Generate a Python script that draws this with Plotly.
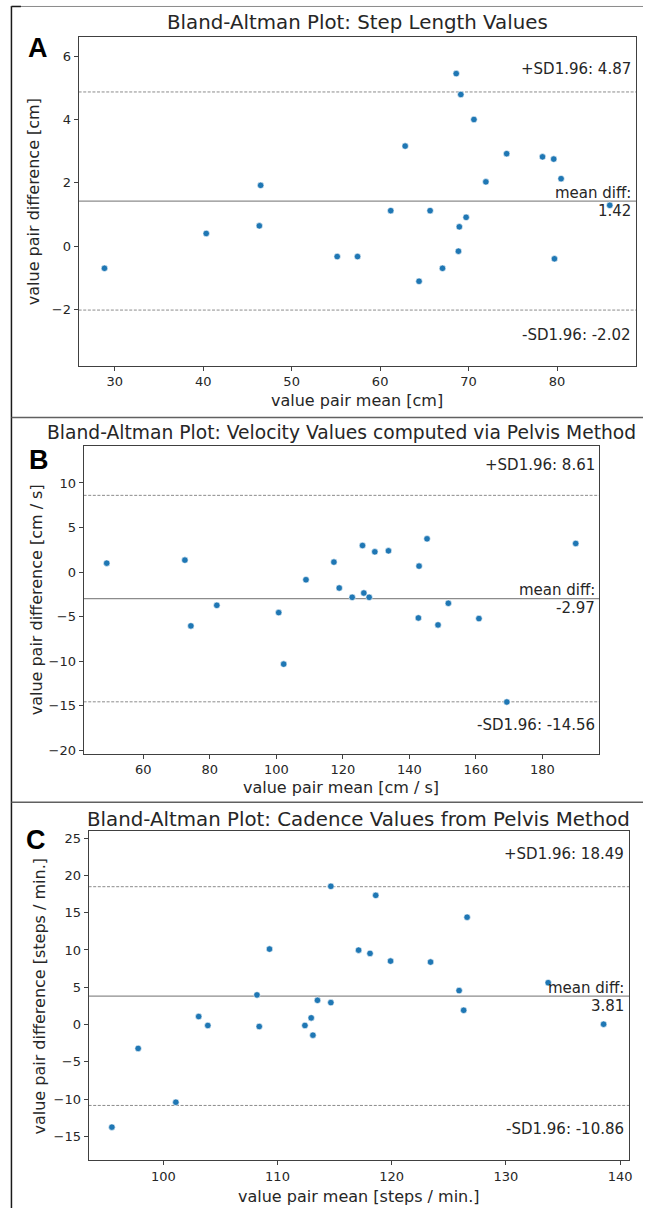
import plotly.graph_objects as go

W, H = 646, 1212

# ---------------- data ----------------
# Panel A: Step length
step_mean = [62.83, 74.3, 78.35, 79.62, 46.5, 71.95, 80.45, 85.95, 61.2, 65.65, 69.72, 68.95,
             46.35, 40.35, 55.15, 57.45, 68.85, 79.7, 67.05, 28.85, 64.4, 68.6, 69.12, 70.6]
step_diff = [3.16, 2.92, 2.82, 2.75, 1.92, 2.03, 2.13, 1.29, 1.12, 1.12, 0.91, 0.61,
             0.64, 0.40, -0.33, -0.33, -0.16, -0.40, -0.70, -0.70, -1.11, 5.45, 4.79, 4.00]

# Panel B: Velocity
vel_mean = [145.3, 49.0, 72.5, 125.9, 129.6, 133.7, 190.0, 117.3, 142.9, 108.9, 118.9, 122.8,
            126.3, 127.9, 82.1, 74.3, 100.7, 142.7, 148.6, 151.7, 160.9, 102.2, 169.3]
vel_diff = [3.73, 1.00, 1.34, 2.98, 2.27, 2.38, 3.21, 1.12, 0.67, -0.86, -1.79, -2.83,
            -2.35, -2.83, -3.73, -6.04, -4.55, -5.15, -5.93, -3.50, -5.22, -10.33, -14.58]

# Panel C: Cadence
cad_mean = [114.67, 118.6, 126.6, 109.3, 117.1, 118.1, 119.9, 123.4, 133.7, 125.9, 108.2, 113.5,
            114.67, 126.3, 103.1, 103.9, 108.4, 112.4, 112.95, 113.1, 138.55, 97.8, 101.1, 95.5]
cad_diff = [18.54, 17.33, 14.40, 10.12, 9.98, 9.54, 8.51, 8.38, 5.61, 4.55, 3.97, 3.25,
            2.94, 1.91, 1.07, -0.13, -0.27, -0.13, 0.89, -1.43, 0.04, -3.21, -10.43, -13.77]

titles = ["Bland-Altman Plot: Step Length Values",
          "Bland-Altman Plot: Velocity Values computed via Pelvis Method",
          "Bland-Altman Plot: Cadence Values from Pelvis Method"]
xlabels = ["value pair mean [cm]", "value pair mean [cm / s]", "value pair mean [steps / min.]"]
ylabels = ["value pair difference [cm]", "value pair difference [cm / s]",
           "value pair difference [steps / min.]"]
panel_letters = ["A", "B", "C"]
mean_diffs = [1.42, -2.97, 3.81]
upper_sd = [4.87, 8.61, 18.49]
lower_sd = [-2.02, -14.56, -10.86]

# ---------------- layout geometry (pixels) ----------------
def X(px):
    return px / W

def Y(py):
    return 1 - py / H

# axes boxes: left, right, top, bottom
boxes = [(79, 639, 37, 367), (84, 602, 447, 756), (89, 632, 834, 1164)]
xranges = [[25.93, 88.92], [42.05, 197.06], [93.46, 140.78]]
yranges = [[-3.78, 6.61], [-20.36, 14.2], [-18.2, 25.93]]
xdticks = [10, 20, 10]
ydticks = [2, 5, 5]
title_y = [23, 434, 822]
title_size = [19.8, 18.7, 19.8]
xlabel_y = [402, 790, 1200]
ylabel_x = [33, 37, 40]
letter_pos = [(38, 48), (39, 462), (36, 843)]
sd_up_y = [69, 467, 857]
sd_lo_y = [336, 727, 1133]
text_right = [636, 600, 629]

TXT = "#262626"
FONT = "DejaVu Sans"

fig = go.Figure()
series = [(step_mean, step_diff), (vel_mean, vel_diff), (cad_mean, cad_diff)]
annotations = []
shapes = []

for i in range(3):
    n = "" if i == 0 else str(i + 1)
    xa, ya = "x" + n, "y" + n
    mx, dy = series[i]
    fig.add_trace(go.Scatter(
        x=mx, y=dy, mode="markers", xaxis=xa, yaxis=ya,
        marker=dict(size=6.5, color="#1f77b4", line=dict(color="white", width=0.6)),
        showlegend=False, hoverinfo="x+y"))
    l, r, t, b = boxes[i]
    axis_common = dict(showline=True, mirror=True, linecolor="#404040", linewidth=1,
                       ticks="outside", ticklen=4, tickwidth=1, tickcolor="#404040",
                       showgrid=False, zeroline=False,
                       tickfont=dict(family=FONT, size=13, color=TXT))
    fig.layout["xaxis" + n] = dict(domain=[X(l), X(r)], range=xranges[i], dtick=xdticks[i],
                                   anchor=ya, **axis_common)
    fig.layout["yaxis" + n] = dict(domain=[Y(b), Y(t)], range=yranges[i], dtick=ydticks[i],
                                   anchor=xa, **axis_common)
    # reference lines
    xd = xa + " domain"
    shapes.append(dict(type="line", xref=xd, yref=ya, x0=0, x1=1, y0=mean_diffs[i], y1=mean_diffs[i],
                       line=dict(color="#8c8c8c", width=1.2), layer="below"))
    for v in (upper_sd[i], lower_sd[i]):
        shapes.append(dict(type="line", xref=xd, yref=ya, x0=0, x1=1, y0=v, y1=v,
                           line=dict(color="#8c8c8c", width=1, dash="3px,1.6px"), layer="below"))
    # texts
    cx = (l + r) / 2
    annotations.append(dict(text=titles[i], x=X(cx), y=Y(title_y[i]), xref="paper", yref="paper",
                            xanchor="center", yanchor="middle", showarrow=False,
                            font=dict(family=FONT, size=title_size[i], color=TXT)))
    annotations.append(dict(text=xlabels[i], x=X(cx), y=Y(xlabel_y[i]), xref="paper", yref="paper",
                            xanchor="center", yanchor="middle", showarrow=False,
                            font=dict(family=FONT, size=16, color=TXT)))
    annotations.append(dict(text=ylabels[i], x=X(ylabel_x[i]), y=Y((t + b) / 2), xref="paper",
                            yref="paper", xanchor="center", yanchor="middle", showarrow=False,
                            textangle=-90, font=dict(family=FONT, size=16, color=TXT)))
    lx, ly = letter_pos[i]
    annotations.append(dict(text="<b>%s</b>" % panel_letters[i], x=X(lx), y=Y(ly), xref="paper",
                            yref="paper", xanchor="center", yanchor="middle", showarrow=False,
                            font=dict(family="Liberation Sans", size=27, color="black")))
    rx = X(text_right[i])
    annotations.append(dict(text="+SD1.96: %.2f" % upper_sd[i], x=rx, y=Y(sd_up_y[i]), xref="paper",
                            yref="paper", xanchor="right", yanchor="middle", showarrow=False,
                            font=dict(family=FONT, size=15, color=TXT)))
    annotations.append(dict(text="-SD1.96: %.2f" % lower_sd[i], x=rx, y=Y(sd_lo_y[i]), xref="paper",
                            yref="paper", xanchor="right", yanchor="middle", showarrow=False,
                            font=dict(family=FONT, size=15, color=TXT)))
    annotations.append(dict(text="mean diff:", x=rx, y=mean_diffs[i], xref="paper", yref=ya,
                            xanchor="right", yanchor="middle", yshift=8.5, showarrow=False,
                            font=dict(family=FONT, size=15, color=TXT)))
    annotations.append(dict(text="%.2f" % mean_diffs[i], x=rx, y=mean_diffs[i], xref="paper", yref=ya,
                            xanchor="right", yanchor="middle", yshift=-9.5, showarrow=False,
                            font=dict(family=FONT, size=15, color=TXT)))

# frame lines around the composite figure
shapes.append(dict(type="line", xref="paper", yref="paper", x0=X(11.5), x1=X(11.5), y0=Y(6), y1=0,
                   line=dict(color="#1a1a1a", width=1.5)))
shapes.append(dict(type="line", xref="paper", yref="paper", x0=X(11.5), x1=1, y0=Y(6.5), y1=Y(6.5),
                   line=dict(color="#8a8a8a", width=1)))
shapes.append(dict(type="line", xref="paper", yref="paper", x0=X(11.5), x1=X(21), y0=Y(6.5), y1=Y(6.5),
                   line=dict(color="#1a1a1a", width=1.5)))
for sy in (419, 805):
    shapes.append(dict(type="line", xref="paper", yref="paper", x0=X(11.5), x1=1, y0=Y(sy), y1=Y(sy),
                       line=dict(color="#606060", width=1.5)))

fig.update_layout(width=W, height=H, margin=dict(l=0, r=0, t=0, b=0),
                  paper_bgcolor="white", plot_bgcolor="white",
                  annotations=annotations, shapes=shapes, showlegend=False)

fig.write_html("out.html")
